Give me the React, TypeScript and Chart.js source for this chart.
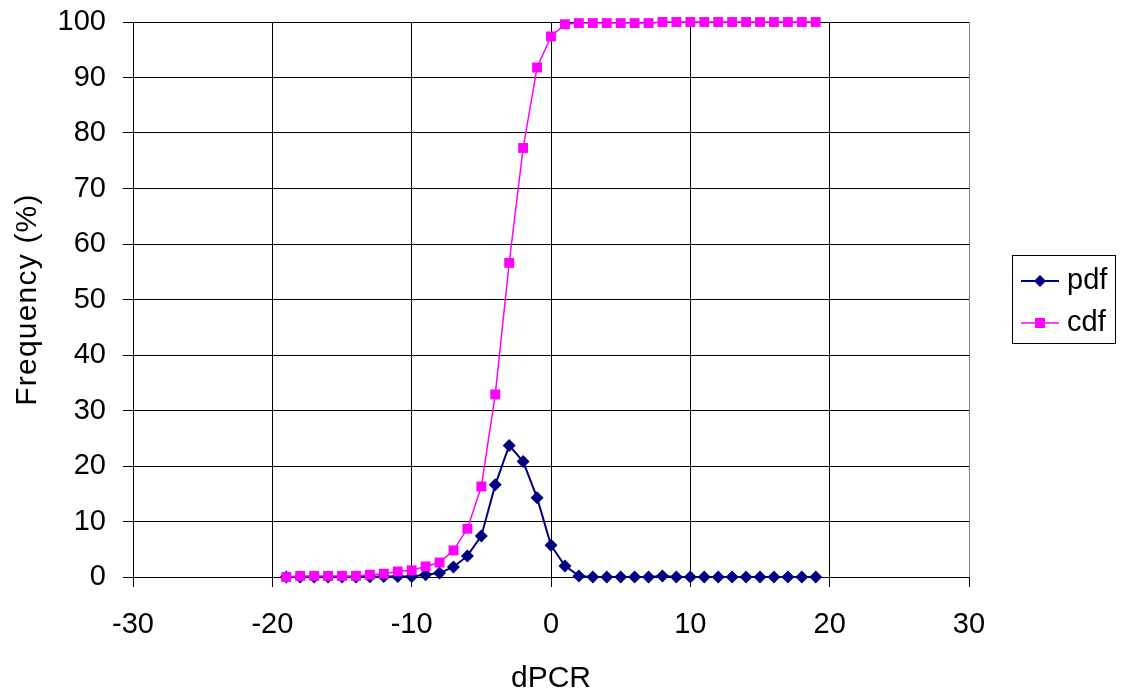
import React, { useEffect, useRef } from "react";
import { Chart, registerables } from "chart.js";

Chart.register(...registerables);

const xValues = [-19, -18, -17, -16, -15, -14, -13, -12, -11, -10, -9, -8, -7, -6, -5, -4, -3, -2, -1, 0, 1, 2, 3, 4, 5, 6, 7, 8, 9, 10, 11, 12, 13, 14, 15, 16, 17, 18, 19];
const pdfValues = [0, 0, 0, 0, 0, 0, 0.05, 0.1, 0.1, 0.1, 0.4, 0.7, 1.8, 3.8, 7.4, 16.6, 23.7, 20.8, 14.3, 5.7, 2.0, 0.2, 0, 0, 0, 0, 0, 0.2, 0, 0, 0, 0, 0, 0, 0, 0, 0, 0, 0];
const cdfValues = [0, 0.2, 0.2, 0.2, 0.2, 0.2, 0.4, 0.6, 1.0, 1.2, 1.9, 2.6, 4.8, 8.7, 16.3, 32.9, 56.6, 77.3, 91.8, 97.4, 99.6, 99.8, 99.8, 99.8, 99.8, 99.8, 99.8, 100, 100, 100, 100, 100, 100, 100, 100, 100, 100, 100, 100];
const seriesNames = ["pdf", "cdf"];
const xTitle = "dPCR";
const yTitle = "Frequency (%)";

const FONT = "'Liberation Sans', Arial, sans-serif";
const PDF_COLOR = "#000080";
const CDF_COLOR = "#FF00FF";

const titleSpacingPlugin = {
  id: "titleSpacing",
  beforeDraw(chart: any) {
    const s = chart.scales.y;
    if (s && !s.__wrapped) {
      const orig = s.drawTitle.bind(s);
      s.drawTitle = () => {
        const ctx = chart.ctx;
        ctx.save();
        ctx.letterSpacing = "1.2px";
        orig();
        ctx.restore();
      };
      s.__wrapped = true;
    }
  },
};

const legendPlugin = {
  id: "customLegend",
  afterDraw(chart: any) {
    const ctx = chart.ctx;
    ctx.save();
    ctx.strokeStyle = "#000";
    ctx.lineWidth = 1;
    ctx.strokeRect(1012.5, 255.5, 103, 88);
    const items = [
      { name: seriesNames[0], color: PDF_COLOR, y: 281, shape: "diamond", lw: 2 },
      { name: seriesNames[1], color: CDF_COLOR, y: 323, shape: "square", lw: 1.5 },
    ];
    for (const it of items) {
      ctx.strokeStyle = it.color;
      ctx.lineWidth = it.lw;
      ctx.beginPath();
      ctx.moveTo(1021, it.y);
      ctx.lineTo(1059, it.y);
      ctx.stroke();
      ctx.fillStyle = it.color;
      ctx.beginPath();
      if (it.shape === "diamond") {
        ctx.moveTo(1040, it.y - 6);
        ctx.lineTo(1046, it.y);
        ctx.lineTo(1040, it.y + 6);
        ctx.lineTo(1034, it.y);
        ctx.closePath();
      } else {
        ctx.rect(1035, it.y - 5, 10, 10);
      }
      ctx.fill();
      ctx.fillStyle = "#000";
      ctx.font = `29px ${FONT}`;
      ctx.textBaseline = "middle";
      ctx.textAlign = "left";
      ctx.fillText(it.name, 1067, it.y);
    }
    ctx.restore();
  },
};

export default function App() {
  const ref = useRef<HTMLCanvasElement | null>(null);
  useEffect(() => {
    document.body.style.margin = "0";
    const canvas = ref.current!;
    const chart = new Chart(canvas, {
      type: "line",
      data: {
        datasets: [
          {
            label: seriesNames[1],
            data: xValues.map((x, i) => ({ x, y: cdfValues[i] })),
            borderColor: CDF_COLOR,
            backgroundColor: CDF_COLOR,
            borderWidth: 1.5,
            pointStyle: "rect",
            pointRadius: 7,
            pointBorderWidth: 0,
            pointBackgroundColor: CDF_COLOR,
            tension: 0,
            clip: false as any,
            order: 0,
          },
          {
            label: seriesNames[0],
            data: xValues.map((x, i) => ({ x, y: pdfValues[i] })),
            borderColor: PDF_COLOR,
            backgroundColor: PDF_COLOR,
            borderWidth: 2,
            pointStyle: "rectRot",
            pointRadius: 6.5,
            pointBorderWidth: 0,
            pointBackgroundColor: PDF_COLOR,
            tension: 0,
            clip: false as any,
            order: 1,
          },
        ],
      },
      options: {
        responsive: false,
        animation: false,
        events: [],
        layout: { padding: { left: 0, top: 22, right: 154, bottom: 0 } },
        plugins: { legend: { display: false }, tooltip: { enabled: false } },
        scales: {
          x: {
            type: "linear",
            min: -30,
            max: 30,
            afterFit: (s: any) => {
              s.height = 119;
            },
            ticks: {
              stepSize: 10,
              color: "#000",
              font: { family: FONT, size: 29 },
              padding: 21,
              maxRotation: 0,
            },
            grid: {
              color: (c: any) => (c.tick && c.tick.value === 30 ? "#808080" : "#000"),
              lineWidth: 1,
              drawTicks: true,
              tickLength: 10,
              tickColor: "#000",
            },
            border: { display: true, color: "#000", width: 1 },
            title: {
              display: true,
              text: xTitle,
              color: "#000",
              font: { family: FONT, size: 30, lineHeight: 1.2 },
              padding: { top: 0, bottom: -1 },
            },
          },
          y: {
            min: 0,
            max: 100,
            afterFit: (s: any) => {
              s.width = 133;
              s.paddingTop = 0;
              s.paddingBottom = 0;
            },
            ticks: {
              stepSize: 10,
              color: "#000",
              font: { family: FONT, size: 29 },
              padding: 17,
            },
            grid: {
              color: "#000",
              lineWidth: 1,
              drawTicks: true,
              tickLength: 10,
              tickColor: "#000",
            },
            border: { display: true, color: "#000", width: 1 },
            title: {
              display: true,
              text: yTitle,
              color: "#000",
              font: { family: FONT, size: 30, lineHeight: 1.2 },
              padding: { top: 10, bottom: 0 },
            },
          },
        },
      },
      plugins: [titleSpacingPlugin, legendPlugin],
    });
    return () => chart.destroy();
  }, []);
  return (
    <canvas
      ref={ref}
      width={1123}
      height={696}
      style={{ position: "absolute", left: 0, top: 0, display: "block" }}
    />
  );
}
